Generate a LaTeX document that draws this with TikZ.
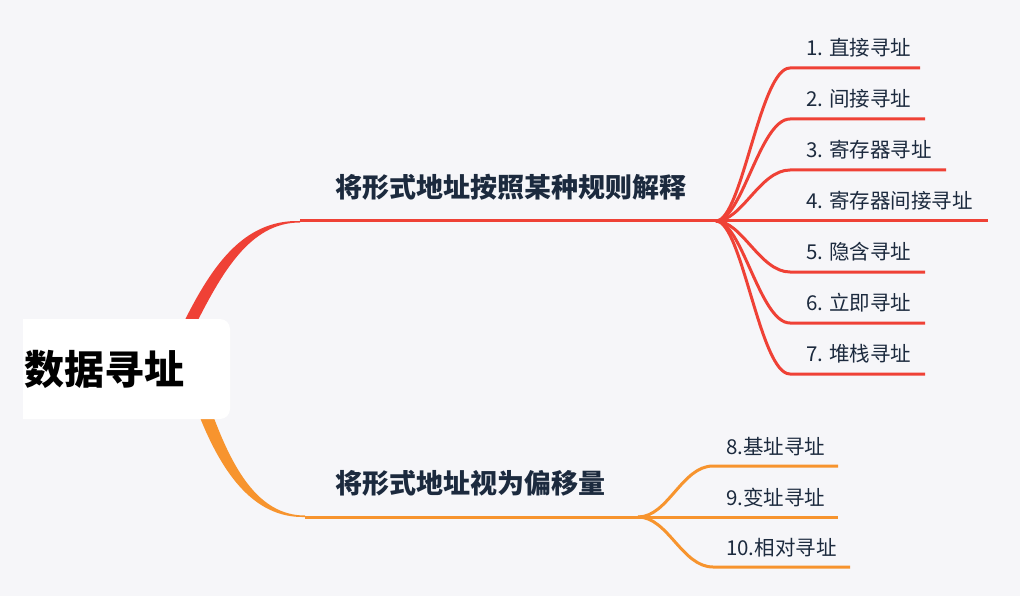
\documentclass[tikz,border=0pt]{standalone}
\usepackage{fontspec}
\setmainfont{Noto Sans CJK SC}
\usetikzlibrary{backgrounds}
\definecolor{bgcol}{HTML}{F6F6F9}
\definecolor{redbr}{HTML}{EF4136}
\definecolor{orangebr}{HTML}{F7942E}
\definecolor{txtcol}{HTML}{1C2A3E}
\tikzset{
  rootlabel/.style={inner sep=0pt, font=\fontsize{40}{40}\selectfont\bfseries, text=black},
  branchlabel/.style={inner sep=0pt, anchor=west, font=\fontsize{27}{27}\selectfont\bfseries, text=txtcol},
  leaflabel/.style={inner sep=0pt, anchor=west, font=\fontsize{20.5}{20.5}\selectfont, text=txtcol},
  redline/.style={draw=redbr, line width=3pt},
  orangeline/.style={draw=orangebr, line width=3pt}
}
\begin{document}
\begin{tikzpicture}[x=1pt, y=-1pt]
  \useasboundingbox (0,0) rectangle (1020,596);
  % root box
  \fill [white] (23,419) -- (23,319) [rounded corners=10pt] -- (230,319) -- (230,419) [sharp corners] -- (23,419) -- cycle;
  \node [rootlabel] (root) at (104,369) {数据寻址};
  % branches
  \node [branchlabel] (addr) at (335,187) {将形式地址按照某种规则解释};
  \node [branchlabel] (offset) at (335,483) {将形式地址视为偏移量};
  \coordinate (addr-a) at (300,221);
  \coordinate (addr-fork) at (716,221);
  \coordinate (offset-a) at (305,517);
  \coordinate (offset-fork) at (638,517);
  \begin{pgfonlayer}{background}
    \fill [bgcol] (0,0) rectangle (1020,596);
    % root to branches
    \fill [redbr] (180,330) .. controls (210,268) and (242,219.5) .. (addr-a) -- (300,222.5)
      .. controls (250,222.5) and (222,272) .. (193,330) -- cycle;
    \draw [redline] (addr-a) -- (addr-fork);
    \fill [orangebr] (197,410) .. controls (220,470) and (252,518.5) .. (offset-a) -- (305,515.5)
      .. controls (258,515.5) and (232,468) .. (211,410) -- cycle;
    \draw [orangeline] (offset-a) -- (offset-fork);
  \end{pgfonlayer}
  % leaves of the first branch
  \foreach \n/\y/\xe/\t in {1/68/920/直接寻址, 2/119/925/间接寻址, 3/170/946/寄存器寻址,
      4/221/988/寄存器间接寻址, 5/272/925/隐含寻址, 6/323/925/立即寻址, 7/374/925/堆栈寻址} {
    \node [leaflabel] (leaf\n) at (806,\y-20.5) {\n. \t};
    \coordinate (leaf\n-a) at (790,\y);
    \coordinate (leaf\n-b) at (\xe,\y);
    \draw [redline] (addr-fork) .. controls (742,221) and (760,\y) .. (leaf\n-a) -- (leaf\n-b);
  };
  % leaves of the second branch
  \foreach \n/\y/\xe/\t in {8/466/838/基址寻址, 9/517/838/变址寻址, 10/567/850/相对寻址} {
    \node [leaflabel] (leaf\n) at (726,\y-19) {\n.\t};
    \coordinate (leaf\n-a) at (713,\y);
    \coordinate (leaf\n-b) at (\xe,\y);
    \draw [orangeline] (offset-fork) .. controls (668,517) and (682,\y) .. (leaf\n-a) -- (leaf\n-b);
  };
\end{tikzpicture}
\end{document}
